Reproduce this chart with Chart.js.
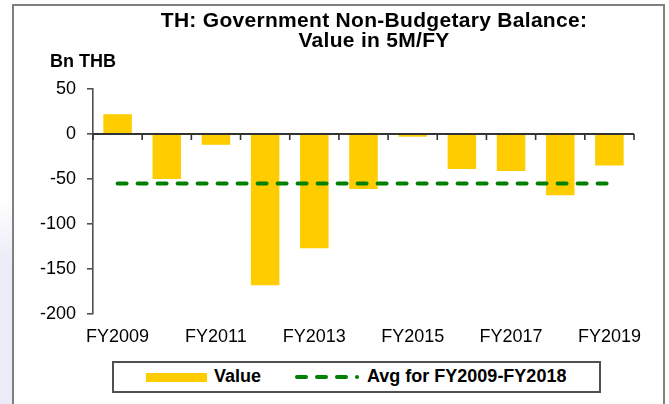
<!DOCTYPE html>
<html>
<head>
<meta charset="utf-8">
<script src="https://cdn.jsdelivr.net/npm/chart.js@4/dist/chart.umd.min.js"></script>
<style>
  html, body { margin: 0; padding: 0; background: #fff; }
  body { width: 669px; height: 404px; position: relative; overflow: hidden; font-family: "Liberation Sans", Arial, sans-serif; }
  #shade { position: absolute; left: 0; top: 200px; width: 12px; height: 204px; background: linear-gradient(to bottom, rgba(236,236,248,0), #ececf8 30%, #ececf8); }
  #frame { position: absolute; left: 12px; top: 4px; width: 649px; height: 430px; border: 2px solid #808080; }
  #c { position: absolute; left: 0; top: 0; }
  .txt { position: absolute; white-space: nowrap; color: #000; font-weight: bold; }
  #title { left: 374px; top: 10px; transform: translateX(-50%); text-align: center; font-size: 21px; line-height: 20.4px; letter-spacing: 0.3px; }
  #unit { left: 50px; top: 52px; font-size: 18px; line-height: 18px; }
  #legend { position: absolute; left: 112px; top: 361px; width: 485px; height: 28px; border: 2px solid #505050; background: #fff; }
  .sw { position: absolute; }
</style>
</head>
<body>
<div id="shade"></div>
<div id="frame"></div>
<canvas id="c" width="669" height="404"></canvas>
<div class="txt" id="title">TH: Government Non-Budgetary Balance:<br>Value in 5M/FY</div>
<div class="txt" id="unit">Bn THB</div>
<div id="legend">
  <div class="sw" style="left:32px;top:10px;width:61px;height:9px;background:#FFCC00;"></div>
  <div class="txt" style="left:100px;top:3px;font-size:18px;line-height:20px;">Value</div>
  <div class="sw" style="left:181px;top:12px;width:13px;height:4px;border-radius:2px;background:#008000;"></div>
  <div class="sw" style="left:201px;top:12px;width:13px;height:4px;border-radius:2px;background:#008000;"></div>
  <div class="sw" style="left:221px;top:12px;width:13px;height:4px;border-radius:2px;background:#008000;"></div>
  <div class="sw" style="left:241px;top:12px;width:4px;height:4px;border-radius:2px;background:#008000;"></div>
  <div class="txt" style="left:253px;top:3px;font-size:18px;line-height:20px;">Avg for FY2009-FY2018</div>
</div>
<script>
const categories = ['FY2009','FY2010','FY2011','FY2012','FY2013','FY2014','FY2015','FY2016','FY2017','FY2018','FY2019'];
const values = [22, -50, -12, -168, -127, -61, -3, -39, -41, -68, -35];
const avgValues = [-55, -55, -55, -55, -55, -55, -55, -55, -55, -55, -55];
const yTicks = [50, 0, -50, -100, -150, -200];

Chart.defaults.font.family = '"Liberation Sans", Arial, sans-serif';
Chart.defaults.color = '#000';

// Category axis line drawn along y = 0, with tick marks at the category boundaries (from the x scale)
const zeroAxisPlugin = {
  id: 'zeroAxis',
  afterDraw(chart) {
    const xs = chart.scales.x, ys = chart.scales.y;
    const ctx = chart.ctx;
    const y0 = ys.getPixelForValue(0);
    ctx.save();
    ctx.setLineDash([]);
    ctx.globalAlpha = 1;
    ctx.strokeStyle = '#333333';
    ctx.lineWidth = 2;
    ctx.beginPath();
    ctx.moveTo(xs.left, y0);
    ctx.lineTo(xs.right, y0);
    ctx.stroke();
    ctx.lineWidth = 1.6;
    ctx.beginPath();
    for (let i = 0; i <= categories.length; i++) {
      const px = xs.getPixelForValue(i - 0.5);
      ctx.moveTo(px, y0);
      ctx.lineTo(px, y0 + 6);
    }
    ctx.stroke();
    ctx.restore();
  }
};

new Chart(document.getElementById('c'), {
  data: {
    labels: categories,
    datasets: [
      {
        type: 'line',
        label: 'Avg for FY2009-FY2018',
        data: avgValues,
        borderColor: '#008000',
        borderWidth: 4,
        borderDash: [9, 11],
        borderCapStyle: 'round',
        pointRadius: 0,
        fill: false,
        order: 0
      },
      {
        type: 'bar',
        label: 'Value',
        data: values,
        backgroundColor: '#FFCC00',
        borderWidth: 0,
        barPercentage: 0.58,
        categoryPercentage: 1,
        order: 1
      }
    ]
  },
  options: {
    responsive: false,
    devicePixelRatio: 1,
    animation: false,
    layout: { padding: { left: 0, top: 89, right: 35, bottom: 0 } },
    plugins: { legend: { display: false }, title: { display: false }, tooltip: { enabled: false } },
    scales: {
      x: {
        type: 'category',
        position: 'bottom',
        offset: true,
        grid: { display: false },
        border: { display: false },
        ticks: {
          autoSkip: false,
          maxRotation: 0,
          padding: 4,
          font: { size: 18 },
          color: '#000',
          callback: function(v, i) { return i % 2 === 0 ? categories[i] : ''; }
        },
        afterFit: function(s) { s.height = 90; }
      },
      y: {
        type: 'linear',
        position: 'left',
        min: -200,
        max: 50,
        afterBuildTicks: function(s) { s.ticks = yTicks.map(function(v) { return { value: v }; }); },
        grid: { display: true, drawOnChartArea: false, drawTicks: true, tickLength: 6, color: '#505050', lineWidth: 1.6 },
        border: { display: true, color: '#505050', width: 1.6 },
        ticks: {
          padding: 11,
          font: { size: 18 },
          color: '#000',
          callback: function(v) { return String(v); }
        },
        afterFit: function(s) { s.width = 93; }
      }
    }
  },
  plugins: [zeroAxisPlugin]
});
</script>
</body>
</html>
